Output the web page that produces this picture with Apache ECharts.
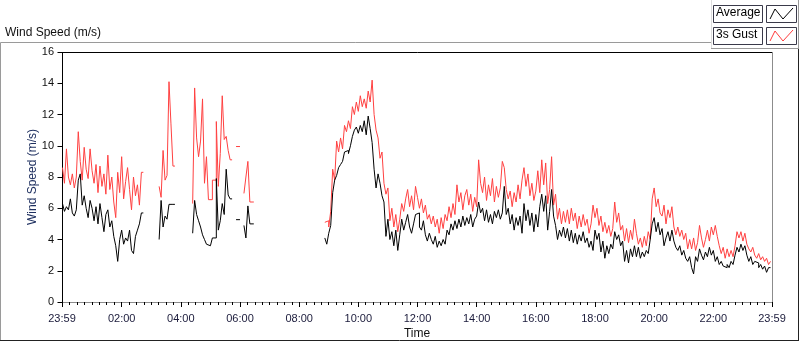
<!DOCTYPE html>
<html>
<head>
<meta charset="utf-8">
<script src="https://cdn.jsdelivr.net/npm/echarts@6/dist/echarts.min.js"></script>
<style>
html,body{margin:0;padding:0;background:#fff;}
#main{width:800px;height:342px;}
</style>
</head>
<body>
<div id="main"></div>
<script>
var unChart = echarts.init(document.getElementById("main"));

// samples every 4 minutes, sample 0 = 00:00
var STEP = 4;
// sample index at which each recorded block starts (gaps = no data)
var blockStart = [0, 49, 66, 88, 92, 133];

var gustBlocks = [
	[8.6,7.6,9.8,8.0,7.5,8.2,7.3,8.0,10.9,9.0,7.8,9.9,8.5,7.9,9.8,8.4,7.6,8.8,7.0,8.7,7.4,8.2,6.9,9.4,7.2,8.0,6.4,5.4,8.3,7.0,9.3,6.6,7.7,8.6,7.2,5.9,8.0,6.8,7.5,6.2,8.3,8.3],
	[7.4,6.7,9.7,7.8,8.1,14.1,11.4,8.7,8.7],
	[6.3,13.7,10.5,9.3,10.3,13.0,7.6,9.3,6.55,6.55,7.8,7.8,11.55,7.4,9.5,13.2,10.4,10.6,9.7,9.1,9.1],
	[9.95,9.95,9.95],
	[6.95,8.0,9.0,6.4,6.4,6.4],
	[5.1,5.2,4.8,5.8,8.5,7.8,10.3,9.6,10.5,9.8,11.3,10.9,11.6,11.1,12.5,12.0,12.8,12.2,13.2,12.5,13.0,12.4,13.5,12.8,14.2,12.0,11.0,10.5,9.2,9.6,7.6,6.9,7.3,5.2,6.0,4.8,5.6,4.5,5.3,6.3,5.8,6.6,7.2,6.1,6.8,5.9,7.4,6.7,6.0,6.6,5.7,6.2,5.3,5.6,5.0,5.5,4.8,5.3,4.4,5.4,4.7,5.6,5.2,6.1,5.4,6.3,5.6,7.5,6.4,7.0,5.9,6.8,7.2,6.2,6.9,5.8,6.7,6.1,9.1,7.6,7.0,8.0,6.5,7.5,6.8,7.9,6.4,7.4,6.7,
	 7.3,9.0,8.6,7.2,6.6,7.1,6.1,7.0,6.4,7.5,6.6,7.8,8.6,7.4,8.2,6.8,7.6,6.5,7.1,8.4,7.0,9.1,7.5,8.9,6.3,7.2,9.3,6.2,6.9,5.3,6.0,5.0,5.8,5.1,5.9,5.0,6.0,5.2,5.7,4.7,5.5,4.8,5.6,4.9,5.3,4.4,5.0,6.2,5.4,6.0,4.9,5.5,4.5,5.1,4.4,4.9,4.2,4.7,6.4,5.1,5.7,4.6,4.9,3.9,4.7,3.8,4.6,4.0,5.3,4.4,3.7,4.1,3.5,4.2,3.6,4.5,4.0,6.6,7.3,6.1,6.6,5.7,
	 5.5,6.2,5.0,5.9,5.4,6.1,4.8,4.3,4.8,4.2,4.6,4.0,4.4,3.4,4.0,3.4,4.1,3.3,3.8,4.9,4.1,3.5,4.0,4.6,3.9,4.8,4.3,4.9,4.2,3.6,3.1,3.5,2.8,3.4,2.9,3.3,2.9,3.6,4.5,4.1,4.5,3.9,4.4,3.7,3.4,3.2,3.5,3.0,2.8,3.1,2.7,2.9,2.6,2.8,2.4,2.6]
];

var avgBlocks = [
	[6.3,5.8,6.1,5.9,6.6,5.7,5.5,5.9,7.8,8.2,6.2,6.8,6.0,5.4,6.5,6.0,5.2,6.1,5.0,6.3,5.4,4.5,5.6,5.9,4.8,5.2,4.2,3.6,2.6,4.0,4.6,3.7,4.1,3.9,4.6,3.3,3.1,4.2,4.6,5.0,5.7,5.7],
	[4.0,6.5,4.8,5.5,5.3,6.25,6.25,6.25,6.25],
	[4.4,6.5,5.6,5.2,4.8,4.3,4.0,3.7,3.6,3.6,4.1,4.1,7.9,4.6,5.2,6.3,5.6,8.5,6.85,6.6,6.6],
	[5.27,5.27,5.27],
	[4.9,4.1,6.15,5.0,5.0,5.0],
	[4.1,3.7,4.4,4.9,7.0,7.8,8.1,8.6,8.8,9.0,9.6,9.7,9.5,10.0,10.6,11.0,11.2,10.8,11.3,10.9,11.6,10.7,11.9,11.1,10.2,8.5,7.3,8.2,7.6,6.8,6.4,4.2,5.3,4.0,4.5,3.6,4.6,3.3,4.3,5.3,4.6,5.1,5.6,4.8,4.4,5.0,5.6,5.7,4.8,4.6,5.2,4.3,3.9,4.4,4.0,3.7,4.2,3.5,3.9,3.6,4.0,3.7,4.6,4.3,5.0,4.6,5.2,4.7,5.3,4.8,5.5,4.9,5.4,5.0,5.6,4.8,5.3,5.5,6.4,5.7,6.0,5.2,5.9,5.1,5.6,5.0,5.8,5.4,5.9,
	 5.3,5.7,7.4,5.6,6.0,5.0,5.6,4.6,5.4,4.9,5.5,4.4,6.3,5.2,5.9,4.9,5.7,4.5,5.6,4.8,6.1,6.9,5.8,6.8,4.6,5.8,7.2,5.5,4.9,4.0,4.6,4.2,4.8,4.1,4.7,3.9,4.6,3.8,4.4,3.7,4.3,3.9,4.5,3.8,4.1,3.5,3.9,3.3,4.6,4.0,4.4,3.2,3.9,2.8,3.6,3.1,3.7,3.4,4.5,4.0,4.3,3.6,3.9,2.6,3.3,2.5,3.4,2.9,3.6,2.9,3.5,2.8,3.2,2.9,3.3,3.1,4.0,5.0,5.4,4.5,5.1,4.3,
	 4.7,3.6,4.1,4.5,3.9,4.6,3.9,3.5,3.3,3.6,3.0,3.3,2.8,2.6,2.9,2.2,1.8,2.9,2.6,3.4,3.0,2.7,3.2,2.9,3.5,3.0,3.3,2.6,2.9,2.4,2.6,2.3,2.2,2.4,2.2,2.6,2.4,3.0,3.5,3.2,3.7,3.3,3.6,3.0,2.6,2.9,2.4,2.6,2.5,2.2,2.4,2.1,2.3,1.9,2.2,2.2]
];

// time labels, in minutes from 00:00 (23:59 of the day before = -1)
var majorTicks = [-1,120,240,360,480,600,720,840,960,1080,1200,1320,1439];

// 8 small divisions between each pair of labels
var minorTicks = [];
for(var k=0;k<majorTicks.length-1;k++){
	for(var s=1;s<8;s++){
		minorTicks.push(majorTicks[k]+(majorTicks[k+1]-majorTicks[k])*s/8);
	}
}

function pad(n){ return (n<10?'0':'')+n; }

// one line series per recorded block so the gaps stay empty
function blockSeries(name, blocks, color){
	var list = [];
	for(var b=0;b<blocks.length;b++){
		var pts = [];
		for(var j=0;j<blocks[b].length;j++){
			pts.push([(blockStart[b]+j)*STEP, blocks[b][j]]);
		}
		list.push({
			name:name,
			type:'line',
			step:'end',
			symbol:'none',
			silent:true,
			lineStyle:{color:color, width:1},
			itemStyle:{color:color},
			data:pts
		});
	}
	return list;
}

var FONT = 'Liberation Sans';
var gL=62, gT=52, gR=772, gB=302;

var options={
	animation:false,
	textStyle:{fontFamily:FONT},
	grid:{left:gL, top:gT, right:800-gR, bottom:342-gB, containLabel:false, outerBoundsMode:'none'},
	xAxis:[{
		type:'value',
		min:-1, max:1439,
		name:'Time',
		nameLocation:'middle',
		nameGap:26,
		nameMoveOverlap:false,
		nameTextStyle:{color:'#111', fontSize:12, fontFamily:FONT},
		axisLine:{show:false},
		splitLine:{show:false},
		axisTick:{show:true, length:5, customValues:majorTicks, lineStyle:{color:'#000'}},
		axisLabel:{
			customValues:majorTicks,
			margin:11,
			fontSize:11,
			color:'#1a1a3a',
			fontFamily:FONT,
			formatter:function(v){
				if(v<0 || v>=1439) return '23:59';
				return pad(Math.floor(v/60))+':'+pad(v%60);
			}
		}
	},{
		type:'value',
		min:-1, max:1439,
		position:'bottom',
		axisLine:{show:false},
		splitLine:{show:false},
		axisLabel:{show:false},
		axisTick:{show:true, length:3, customValues:minorTicks, lineStyle:{color:'#000'}}
	}],
	yAxis:{
		type:'value',
		min:0, max:16, interval:2,
		name:'Wind Speed (m/s)',
		nameLocation:'middle',
		nameGap:23,
		nameMoveOverlap:false,
		nameTextStyle:{color:'#1f3060', fontSize:12, fontFamily:FONT},
		axisLine:{show:false},
		splitLine:{show:false},
		axisTick:{show:true, length:5, lineStyle:{color:'#000'}},
		axisLabel:{margin:8, fontSize:11, color:'#111', fontFamily:FONT}
	},
	graphic:[
		// outer panel
		{type:'line', shape:{x1:0.5,y1:42.5,x2:711,y2:42.5}, style:{stroke:'#9a9a9a',lineWidth:1}},
		{type:'line', shape:{x1:0.5,y1:42.5,x2:0.5,y2:341}, style:{stroke:'#9a9a9a',lineWidth:1}},
		{type:'line', shape:{x1:0,y1:340.5,x2:799,y2:340.5}, style:{stroke:'#222',lineWidth:1}},
		{type:'line', shape:{x1:798.5,y1:49,x2:798.5,y2:341}, style:{stroke:'#222',lineWidth:1}},
		{type:'line', shape:{x1:711,y1:48.5,x2:799,y2:48.5}, style:{stroke:'#9a9a9a',lineWidth:1}},
		{type:'line', shape:{x1:711.5,y1:0,x2:711.5,y2:48}, style:{stroke:'#dcdcdc',lineWidth:1}},
		{type:'line', shape:{x1:798.5,y1:0,x2:798.5,y2:49}, style:{stroke:'#9a9a9a',lineWidth:1}},
		{type:'text', left:5, top:27, style:{text:'Wind Speed (m/s)', font:'12px '+FONT, fill:'#111'}},
		// plot frame
		{type:'line', shape:{x1:gL+0.5,y1:gT+0.5,x2:gR,y2:gT+0.5}, style:{stroke:'#000',lineWidth:1}},
		{type:'line', shape:{x1:gL+0.5,y1:gT,x2:gL+0.5,y2:gB+1}, style:{stroke:'#000',lineWidth:1}},
		{type:'line', shape:{x1:gR+0.5,y1:gT,x2:gR+0.5,y2:gB+1}, style:{stroke:'#8c8c8c',lineWidth:1}},
		{type:'line', shape:{x1:gL,y1:gB+0.5,x2:gR+1,y2:gB+0.5}, style:{stroke:'#8c8c8c',lineWidth:1}},
		// legend
		{type:'rect', shape:{x:713.5,y:5.5,width:49,height:17}, style:{fill:'#fff',stroke:'#3a3a4a',lineWidth:1}},
		{type:'text', left:716, top:7, style:{text:'Average', font:'12px '+FONT, fill:'#000'}},
		{type:'rect', shape:{x:766.5,y:5.5,width:30,height:17}, style:{fill:'#fff',stroke:'#3a3a4a',lineWidth:1}},
		{type:'polyline', shape:{points:[[770,19],[775,9],[783,19],[793,8]]}, style:{stroke:'#000',fill:null,lineWidth:1}},
		{type:'rect', shape:{x:713.5,y:27.5,width:49,height:17}, style:{fill:'#fff',stroke:'#3a3a4a',lineWidth:1}},
		{type:'text', left:716, top:29, style:{text:'3s Gust', font:'12px '+FONT, fill:'#000'}},
		{type:'rect', shape:{x:766.5,y:27.5,width:30,height:17}, style:{fill:'#fff',stroke:'#3a3a4a',lineWidth:1}},
		{type:'polyline', shape:{points:[[770,41],[775,31],[783,41],[793,30]]}, style:{stroke:'#ff3c3c',fill:null,lineWidth:1}}
	],
	series: blockSeries('3s Gust', gustBlocks, '#ff4040').concat(blockSeries('Average', avgBlocks, '#000'))
};
unChart.setOption(options);
</script>
</body>
</html>
